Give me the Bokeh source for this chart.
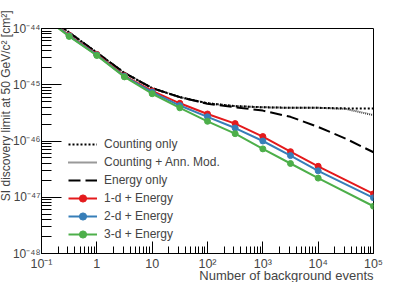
from bokeh.plotting import figure
from bokeh.models import FixedTicker, CustomJSTickFormatter, Legend, LegendItem, Title
from bokeh.embed import file_html
from bokeh.resources import INLINE

# ---- data ----
x_black = [0.1, 0.316, 1, 3.16, 10, 31.6, 100, 316, 1000, 3160, 1e4, 3.16e4, 1e5]
counting_only = [1.91e-44, 8.51e-45, 3.72e-45, 1.62e-45, 8.71e-46, 6.03e-46, 4.68e-46,
                 4.17e-46, 3.98e-46, 3.89e-46, 3.89e-46, 3.80e-46, 3.80e-46]
counting_annmod = [1.91e-44, 8.51e-45, 3.72e-45, 1.62e-45, 8.71e-46, 6.03e-46, 4.68e-46,
                   4.17e-46, 3.98e-46, 3.89e-46, 3.89e-46, 3.72e-46, 2.88e-46]
energy_only = [1.91e-44, 8.51e-45, 3.72e-45, 1.62e-45, 8.71e-46, 6.03e-46, 4.57e-46,
               3.98e-46, 3.47e-46, 2.69e-46, 1.78e-46, 1.10e-46, 6.31e-47]

x_col = [0.1, 0.316, 1, 3.16, 10, 31.6, 100, 316, 1000, 3160, 1e4, 1e5]
d1_energy = [1.74e-44, 7.59e-45, 3.47e-45, 1.445e-45, 7.76e-46, 4.68e-46, 3.02e-46,
             2.04e-46, 1.20e-46, 6.46e-47, 3.55e-47, 1.15e-47]
d2_energy = [1.74e-44, 7.41e-45, 3.39e-45, 1.41e-45, 7.41e-46, 4.27e-46, 2.69e-46,
             1.70e-46, 1.00e-46, 5.50e-47, 2.95e-47, 9.77e-48]
d3_energy = [1.70e-44, 7.24e-45, 3.31e-45, 1.38e-45, 6.92e-46, 3.89e-46, 2.24e-46,
             1.35e-46, 7.24e-47, 3.98e-47, 2.19e-47, 6.92e-48]

x_tick_exps = [-1, 0, 1, 2, 3, 4, 5]
x_tick_labels = ["10⁻¹", "1", "10", "10²", "10³", "10⁴", "10⁵"]
y_tick_exps = [-48, -47, -46, -45, -44]
y_tick_labels = ["10⁻⁴⁸", "10⁻⁴⁷", "10⁻⁴⁶", "10⁻⁴⁵", "10⁻⁴⁴"]

x_title = "Number of background events"
y_title = "SI discovery limit at 50 GeV/c² [cm²]"
legend_labels = ["Counting only", "Counting + Ann. Mod.", "Energy only",
                 "1-d + Energy", "2-d + Energy", "3-d + Energy"]

FONT = "Liberation Sans"

p = figure(frame_width=332, frame_height=225, x_axis_type="log", y_axis_type="log",
           x_range=(0.1, 1e5), y_range=(1e-48, 1e-44),
           output_backend="svg", toolbar_location=None,
           min_border_left=41, min_border_right=42, min_border_top=28, min_border_bottom=29)
p.xgrid.visible = False
p.ygrid.visible = False
p.outline_line_color = "black"
p.outline_line_width = 1
p.background_fill_color = "white"
p.border_fill_color = "white"

def minor(exps):
    return [m * 10.0 ** e for e in exps[:-1] for m in range(2, 10)]

p.xaxis.ticker = FixedTicker(ticks=[10.0 ** e for e in x_tick_exps], minor_ticks=minor(x_tick_exps))
p.yaxis.ticker = FixedTicker(ticks=[10.0 ** e for e in y_tick_exps], minor_ticks=minor(y_tick_exps))

fmt_code = """
const e = Math.round(Math.log10(tick));
const i = exps.indexOf(e);
return i >= 0 ? labels[i] : "";
"""
p.xaxis.formatter = CustomJSTickFormatter(args=dict(exps=x_tick_exps, labels=x_tick_labels), code=fmt_code)
p.yaxis.formatter = CustomJSTickFormatter(args=dict(exps=y_tick_exps, labels=y_tick_labels), code=fmt_code)

for ax in (p.xaxis, p.yaxis):
    ax.major_tick_out = 0
    ax.minor_tick_out = 0
    ax.major_label_text_font = FONT
    ax.axis_line_color = "black"
    ax.major_tick_line_color = "black"
    ax.minor_tick_line_color = "black"

p.xaxis.major_label_text_font_size = "12.5px"
p.yaxis.major_label_text_font_size = "12px"
p.xaxis.major_tick_in = 12
p.xaxis.minor_tick_in = 7
p.yaxis.major_tick_in = 20
p.yaxis.minor_tick_in = 10
p.xaxis.major_label_standoff = 3
p.yaxis.major_label_standoff = 1

# axis titles, ROOT style: right-aligned at the end of each axis
p.add_layout(Title(text=x_title, align="right", text_font=FONT, text_font_size="13px",
                   text_font_style="normal", standoff=-18), "below")
p.add_layout(Title(text=y_title, align="right", text_font=FONT,
                   text_font_size="12px", text_font_style="normal",
                   standoff=-7, offset=-18), "left")

# black curves
r_cnt = p.line(x_black, counting_only, line_color="black", line_width=2, line_dash="2 2")
r_ann = p.line(x_black, counting_annmod, line_color="black", line_width=2, line_dash="1 1", line_alpha=0.8)
r_en = p.line(x_black, energy_only, line_color="black", line_width=2, line_dash="12 5")

items = [LegendItem(label=legend_labels[0], renderers=[r_cnt]),
         LegendItem(label=legend_labels[1], renderers=[r_ann]),
         LegendItem(label=legend_labels[2], renderers=[r_en])]

for ys, col, lab in [(d1_energy, "#e41a1c", legend_labels[3]),
                     (d2_energy, "#377eb8", legend_labels[4]),
                     (d3_energy, "#4daf4a", legend_labels[5])]:
    rl = p.line(x_col, ys, line_color=col, line_width=2)
    rs = p.scatter(x_col, ys, marker="circle", size=6, fill_color=col, line_color=col)
    items.append(LegendItem(label=lab, renderers=[rl, rs]))

legend = Legend(items=items, location=(27, 10))
legend.glyph_width = 29
legend.glyph_height = 18
legend.label_height = 18
legend.spacing = 0
legend.padding = 0
legend.margin = 0
legend.label_standoff = 7
legend.label_text_font = FONT
legend.label_text_font_size = "12px"
legend.border_line_alpha = 0
legend.background_fill_alpha = 0
p.add_layout(legend)

open("out.html", "w").write(file_html(p, INLINE))
